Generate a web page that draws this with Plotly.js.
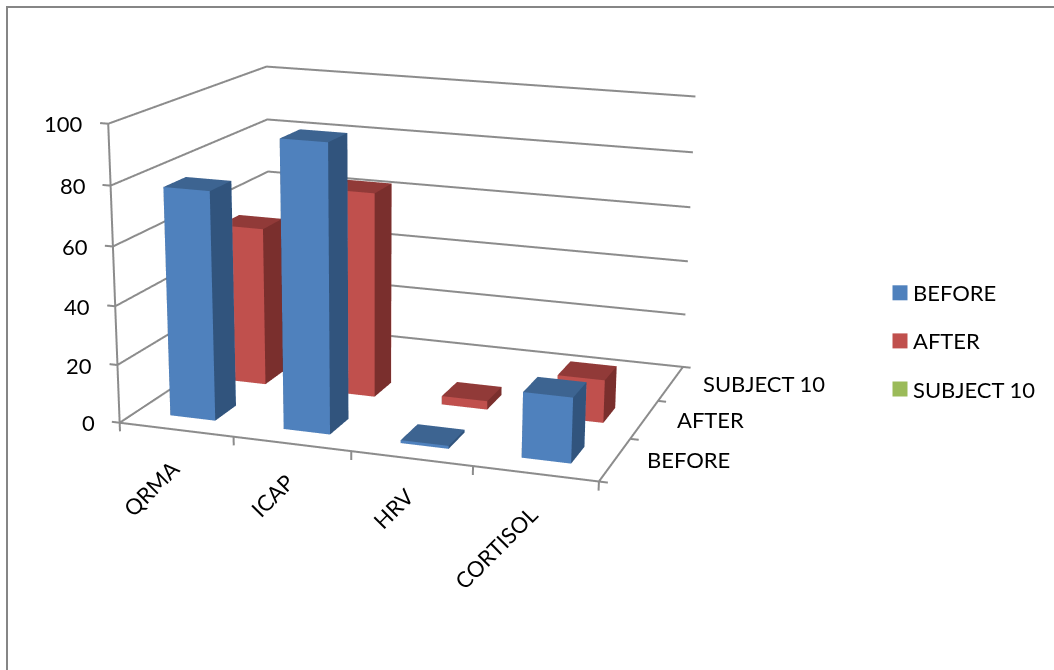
<!DOCTYPE html><html style="overflow:hidden"><head><meta charset="utf-8">
<script src="https://cdn.plot.ly/plotly-3.0.1.min.js"></script>
<style>html,body{margin:0;width:1054px;height:670px;overflow:hidden;background:#fff}
#frame{position:absolute;left:0;top:0;width:1054px;height:670px;overflow:hidden}
#chart{position:absolute;left:-500px;top:-493px;width:2054px;height:1657px}</style></head>
<body><div id="frame"><div id="chart"></div></div>
<script>
// Data
const categories=['QRMA','ICAP','HRV','CORTISOL'];
const seriesNames=['BEFORE','AFTER','SUBJECT 10'];
const before=[78,97,1,22];
const after=[56,72,3,15];
const subject10=[0,0,0,0];
const zTicks=[0,20,40,60,80,100];
// Colours
const faceColors={BEFORE:['#4F81BD','#31547D','#3D6491'],AFTER:['#C0504D','#7A2F2D','#913A38'],'SUBJECT 10':['#9BBB59','#677C3A','#7D9747']};
const legendColors=['#4F81BD','#C0504D','#9BBB59'];
const font='Lato, sans-serif', fs=22, grey='#8C8C8C';
const W=2054,H=1657,L=500,T=493;
const px=x=>(x+L)/W, py=y=>1-(y+T)/H;
const nCat=categories.length,nSer=seriesNames.length,zMax=zTicks[zTicks.length-1];

function barMesh(vals,row,name){
  const x=[],y=[],z=[],i=[],j=[],k=[],fc=[];
  const col=faceColors[name];
  vals.forEach((v,c)=>{
    if(!v) return;
    const b=x.length,x0=c+.3,x1=c+.7,y0=row+.3,y1=row+.7;
    [[x0,y0,0],[x1,y0,0],[x1,y1,0],[x0,y1,0],[x0,y0,v],[x1,y0,v],[x1,y1,v],[x0,y1,v]].forEach(p=>{x.push(p[0]);y.push(p[1]);z.push(p[2])});
    const quad=(a,d,e,f,color)=>{i.push(b+a,b+a);j.push(b+d,b+e);k.push(b+e,b+f);fc.push(color,color)};
    quad(0,1,5,4,col[0]);
    quad(3,2,6,7,col[0]);
    quad(1,2,6,5,col[1]);
    quad(0,3,7,4,col[1]);
    quad(4,5,6,7,col[2]);
    quad(0,1,2,3,col[1]);
  });
  return {type:'mesh3d',x,y,z,i,j,k,facecolor:fc,flatshading:true,showlegend:false,hoverinfo:'skip',
    lighting:{ambient:1,diffuse:0,specular:0,roughness:1,fresnel:0},scene:'scene'};
}
// Walls' gridlines, axis lines and tick marks, all built from the axis definitions
const gx=[],gy=[],gz=[];
const seg=(...pts)=>{pts.forEach(p=>{gx.push(p[0]);gy.push(p[1]);gz.push(p[2])});gx.push(null);gy.push(null);gz.push(null)};
zTicks.forEach(t=>{seg([0,0,t],[0,nSer,t],[nCat,nSer,t]);seg([0,0,t],[-.07,0,t])});
seg([0,0,0],[0,0,zMax]);seg([0,0,0],[nCat,0,0],[nCat,nSer,0]);
for(let c=0;c<=nCat;c++)seg([c,0,0],[c,0,-3]);
for(let s=0;s<=nSer;s++)seg([nCat,s,0],[nCat+.07,s,0]);
const frameLines={type:'scatter3d',mode:'lines',x:gx,y:gy,z:gz,line:{color:grey,width:4},showlegend:false,hoverinfo:'skip'};

const traces=[frameLines,barMesh(before,0,'BEFORE'),barMesh(after,1,'AFTER'),
 ...seriesNames.map((n,s)=>({type:'scatter3d',x:[null],y:[null],z:[null],mode:'markers',name:n,legendgroup:n,
   marker:{symbol:'square',size:15,color:legendColors[s]},hoverinfo:'skip',showlegend:true}))];

const ann=[];
const txt=(o)=>Object.assign({showarrow:false,font:{family:font,size:fs,color:'#000'}},o);
zTicks.forEach(t=>ann.push(txt({x:0,y:0,z:t,text:String(t),xanchor:'right',yanchor:'middle',xshift:-23,yshift:0})));
const catShift=[11,10,10,10],catLift=[-23,-22,-22,-24];
categories.forEach((c,i)=>ann.push(txt({x:i+.5,y:0,z:0,text:c,textangle:-45,xanchor:'right',yanchor:'top',xshift:catShift[i],yshift:catLift[i]})));
seriesNames.forEach((s,i)=>ann.push(txt({x:nCat,y:i+.5,z:0,text:s,xanchor:'left',yanchor:'middle',xshift:30,yshift:0})));

const axis=(extra)=>Object.assign({title:{text:''},showbackground:false,showticklabels:false,showspikes:false,zeroline:false,
  showline:false,ticks:'',showgrid:false},extra);
const layout={width:W,height:H,margin:{l:0,r:0,t:0,b:0},paper_bgcolor:'rgba(0,0,0,0)',hovermode:false,
 shapes:[{type:'rect',xref:'paper',yref:'paper',x0:px(7),x1:px(1080),y0:py(7),y1:py(700),line:{color:'#868686',width:2},layer:'below'}],
 legend:{x:px(873),y:py(272),xanchor:'left',yanchor:'top',tracegroupgap:16.5,font:{family:font,size:fs,color:'#000'},bgcolor:'rgba(0,0,0,0)',traceorder:'grouped'},
 scene:{domain:{x:[0,1],y:[0,1]},aspectmode:'manual',aspectratio:{x:1.7974,y:1.3794,z:1.2},
  camera:{eye:{x:2.176,y:-6.27,z:1.691},center:{x:.413,y:-.055,z:-.231},up:{x:-.244,y:.761,z:1},projection:{type:'perspective'}},
  xaxis:axis({range:[-.2,4.2]}),
  yaxis:axis({range:[-.15,3.15]}),
  zaxis:axis({range:[-10,110]}),
  annotations:ann}};
Plotly.newPlot('chart',traces,layout,{displayModeBar:false,responsive:false}).then(()=>{
  document.querySelectorAll('.legend .legendsymbols').forEach(g=>g.setAttribute('transform','translate(7,0)'));
});
</script></body></html>
